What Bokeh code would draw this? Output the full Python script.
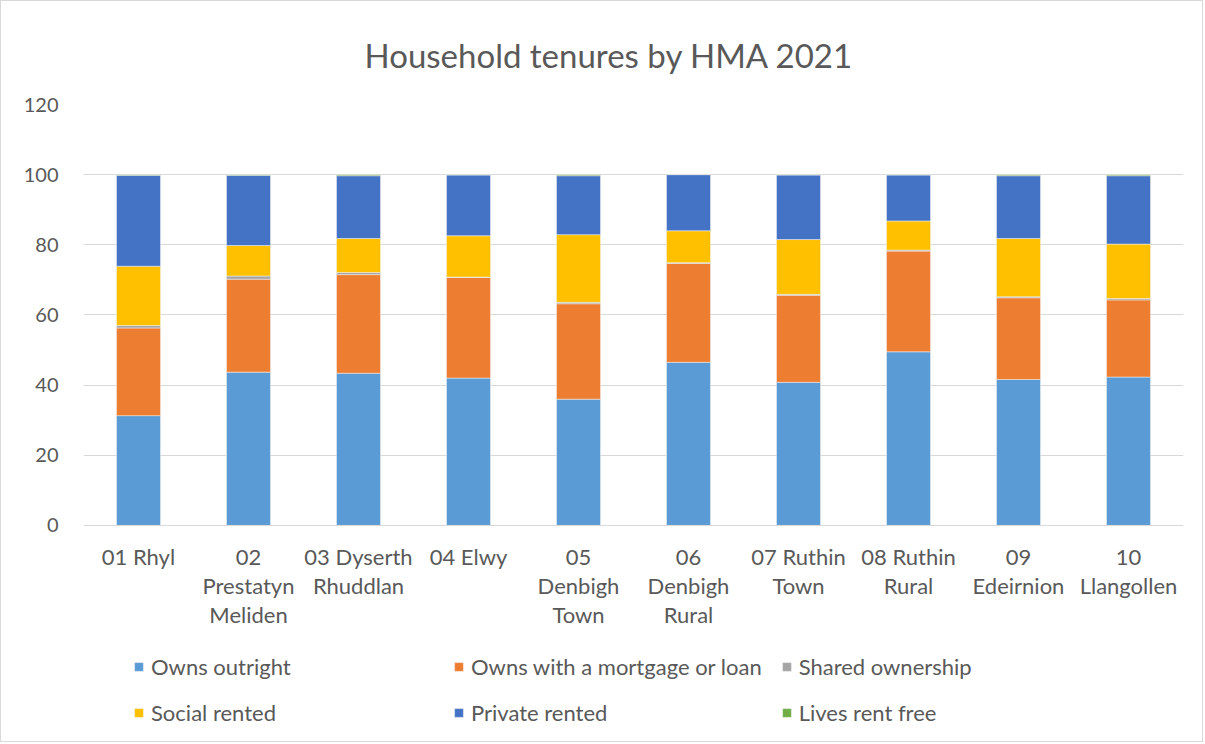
from bokeh.plotting import figure
from bokeh.models import ColumnDataSource, Legend, LegendItem, FixedTicker, Title
from bokeh.embed import file_html
from bokeh.resources import INLINE

areas = ["01 Rhyl", "02\nPrestatyn\nMeliden", "03 Dyserth\nRhuddlan", "04 Elwy",
         "05\nDenbigh\nTown", "06\nDenbigh\nRural", "07 Ruthin\nTown", "08 Ruthin\nRural",
         "09\nEdeirnion", "10\nLlangollen"]

owns_outright = [31.3, 43.7, 43.4, 42.0, 36.0, 46.5, 40.8, 49.5, 41.6, 42.3]
owns_mortgage = [25.0, 26.5, 28.1, 28.7, 27.2, 28.2, 24.8, 28.7, 23.3, 22.0]
shared_ownership = [0.7, 0.9, 0.6, 0.1, 0.4, 0.2, 0.3, 0.3, 0.3, 0.4]
social_rented = [16.9, 8.7, 9.7, 11.8, 19.3, 9.1, 15.6, 8.3, 16.6, 15.5]
private_rented = [25.9, 20.0, 17.9, 17.3, 16.8, 16.0, 18.4, 13.1, 17.9, 19.5]
lives_rent_free = [0.2, 0.2, 0.3, 0.1, 0.3, 0.05, 0.1, 0.1, 0.3, 0.3]

series_keys = ["owns_outright", "owns_mortgage", "shared", "social", "private", "free"]
series_names = ["Owns outright", "Owns with a mortgage or loan", "Shared ownership",
                "Social rented", "Private rented", "Lives rent free"]
colors = ["#5B9BD5", "#ED7D31", "#A5A5A5", "#FFC000", "#4472C4", "#70AD47"]
y_ticks = [0, 20, 40, 60, 80, 100, 120]

source = ColumnDataSource(dict(
    area=areas,
    owns_outright=owns_outright,
    owns_mortgage=owns_mortgage,
    shared=shared_ownership,
    social=social_rented,
    private=private_rented,
    free=lives_rent_free,
))

FONT = "Lato"
GREY = "#595959"

# frame extends below zero so that the category labels and legend sit inside it
p = figure(x_range=areas, y_range=(-61.6, 120), width=1203, height=742,
           output_backend="svg", toolbar_location=None,
           min_border_left=82, min_border_right=21, min_border_top=103, min_border_bottom=2)
p.styles = {"border": "1px solid #d9d9d9"}

renderers = p.vbar_stack(series_keys, x="area", width=0.4, source=source,
                         fill_color=colors, line_color="#f2f2f2", line_width=0.5)

t = Title(text="Household tenures by HMA 2021", align="left",
          text_font=FONT, text_font_size="33px", text_font_style="normal",
          text_color=GREY, standoff=60, offset=281)
p.add_layout(t, "above")

p.outline_line_color = None
p.xgrid.grid_line_color = None
p.ygrid.grid_line_color = "#d9d9d9"
p.ygrid.grid_line_width = 1

p.yaxis.ticker = FixedTicker(ticks=y_ticks)
p.yaxis.axis_line_color = None
p.yaxis.major_tick_line_color = None
p.yaxis.minor_tick_line_color = None
p.yaxis.major_label_standoff = 19
p.yaxis.major_label_text_font = FONT
p.yaxis.major_label_text_font_size = "20px"
p.yaxis.major_label_text_color = GREY

p.xaxis.fixed_location = 0
p.xaxis.axis_line_color = "#d9d9d9"
p.xaxis.major_tick_line_color = None
p.xaxis.minor_tick_line_color = None
p.xaxis.major_label_standoff = 12
p.xaxis.major_label_text_font = FONT
p.xaxis.major_label_text_font_size = "22px"
p.xaxis.major_label_text_color = GREY
p.xaxis.major_label_text_line_height = 1.07

items = [LegendItem(label=n, renderers=[r]) for n, r in zip(series_names, renderers)]
legend = Legend(items=items, orientation="horizontal", ncols=3,
                location=(50, 15), margin=0, padding=0,
                glyph_width=11, glyph_height=11, label_standoff=7,
                label_width=283, label_height=24, spacing=19,
                label_text_font=FONT, label_text_font_size="22px",
                label_text_color=GREY, border_line_color=None,
                background_fill_alpha=0)
p.add_layout(legend, "center")

open("out.html", "w").write(file_html(p, INLINE))
